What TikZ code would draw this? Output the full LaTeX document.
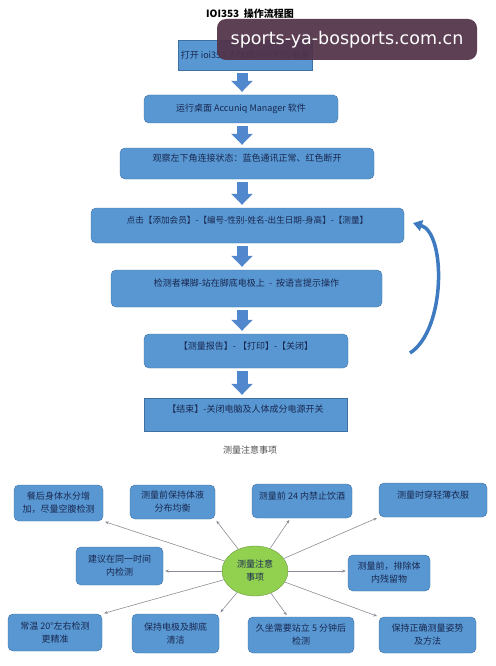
\documentclass[tikz,border=0pt]{standalone}
\usepackage{fontspec}
\setmainfont{Noto Sans CJK SC}
\newfontfamily\markfont{DejaVu Sans}
\usetikzlibrary{arrows.meta,shapes.geometric}
\definecolor{boxblue}{RGB}{88,151,210}
\definecolor{boxedge}{RGB}{62,112,162}
\definecolor{boxtext}{RGB}{25,40,80}
\definecolor{arrowblue}{RGB}{80,135,205}
\definecolor{loopblue}{RGB}{62,122,192}
\definecolor{hubgreen}{RGB}{146,208,80}
\definecolor{hubedge}{RGB}{104,152,62}
\definecolor{spokegray}{RGB}{140,140,150}
\definecolor{wmbg}{RGB}{82,50,72}
\tikzset{
  sz/.style 2 args={minimum width=#1pt,minimum height=#2pt},
  flowbox/.style={draw=boxedge,fill=boxblue,text=boxtext,inner sep=0pt,rounded corners=5pt,
    font=\fontsize{9}{11}\selectfont},
  raised/.style={text depth=11pt},
  flowarrow/.style={draw=arrowblue,line width=11pt,-{Triangle[width=21pt,length=11pt]},
    shorten <=3pt,shorten >=3pt},
  looparrow/.style={draw=loopblue,line width=3.5pt,-{Triangle[width=11pt,length=9pt]}},
  mbox/.style={draw=boxedge,fill=boxblue,text=boxtext,inner sep=0pt,rounded corners=5pt,
    align=center,font=\fontsize{9}{13}\selectfont},
  hub/.style={ellipse,draw=hubedge,fill=hubgreen,text=boxtext,minimum width=66pt,minimum height=50pt,
    inner sep=0pt,align=center,font=\fontsize{9}{13}\selectfont},
  spoke/.style={draw=spokegray,line width=0.6pt,-{Stealth[length=3.5pt,width=3pt]},shorten >=2pt},
  wmark/.style={fill=wmbg,fill opacity=0.93,text opacity=1,text=white,rounded corners=9pt,
    minimum width=260pt,minimum height=41pt,inner sep=0pt,font=\markfont\fontsize{17.5}{20}\selectfont}
}
\begin{document}
\begin{tikzpicture}[x=1pt,y=-1pt]
  \useasboundingbox (0,0) rectangle (495,666);
  \node[font=\bfseries\fontsize{10}{12}\selectfont] (title) at (250,14) {IOI353\ \ 操作流程图};
  % flow chart
  \node[flowbox,sharp corners,sz={134}{30}] (b1) at (245,55) {打开 ioi353 人体成分分析仪电源};
  \node[flowbox,sz={194}{28}] (b2) at (241,109) {运行桌面 Accuniq Manager 软件};
  \node[flowbox,raised,sz={254}{31}] (b3) at (247,163.5) {观察左下角连接状态：蓝色通讯正常、红色断开};
  \node[flowbox,raised,sz={313}{35},font=\fontsize{8.6}{10}\selectfont] (b4) at (247.5,225.5)
    {点击【添加会员】-【编号-性别-姓名-出生日期-身高】-【测量】};
  \node[flowbox,raised,sz={271}{37}] (b5) at (246.5,288.5) {检测者裸脚-站在脚底电极上\ \ -\ \ 按语言提示操作};
  \node[flowbox,raised,sz={204}{34}] (b6) at (246,351) {【测量报告】- 【打印】-【关闭】};
  \node[flowbox,raised,sharp corners,sz={203}{33}] (b7) at (245.5,414.5) {【结束】-关闭电脑及人体成分电源开关};
  \coordinate (ax) at (242,0);
  \foreach \a/\b in {b1/b2,b2/b3,b3/b4,b4/b5,b5/b6,b6/b7}
    \draw[flowarrow] (\a.south -| ax) -- (\b.north -| ax);
  % back to measuring
  \coordinate (loopstart) at (410,353);
  \coordinate (looptip) at (413,223);
  \draw[looparrow] (loopstart) .. controls (446,330) and (446,233) .. (looptip);
  % notes
  \node[text=black!70,font=\fontsize{9}{11}\selectfont] (notes) at (250,450) {测量注意事项};
  \node[hub] (el) at (255,571) {测量注意\\事项};
  \node[mbox,sz={89}{36}] (tl1) at (58.5,503) {餐后身体水分增\\加，尽量空腹检测};
  \node[mbox,sz={85}{34}] (tl2) at (172.5,502) {测量前保持体液\\分布均衡};
  \node[mbox,raised,sz={100}{34}] (t3) at (302,501) {测量前 24 内禁止饮酒};
  \node[mbox,raised,sz={108}{34}] (t4) at (433,500) {测量时穿轻薄衣服};
  \node[mbox,sz={87}{38}] (ml) at (119.5,566) {建议在同一时间\\内检测};
  \node[mbox,sz={82}{36}] (mr) at (389,573) {测量前，排除体\\内残留物};
  \node[mbox,sz={94}{37}] (bl1) at (55,632.5) {常温 20°左右检测\\更精准};
  \node[mbox,sz={87}{39}] (bl2) at (175.5,633.5) {保持电极及脚底\\清洁};
  \node[mbox,sz={106}{36}] (br1) at (301,635) {久坐需要站立 5 分钟后\\检测};
  \node[mbox,sz={97}{36}] (br2) at (427.5,635) {保持正确测量姿势\\及方法};
  \foreach \t in {tl1.south east,tl2.south east,t3,t4.south west,bl1.north east,bl2.north east,br1,br2.north west}
    \draw[spoke] (el) -- (\t);
  \draw[spoke] (el) -- (ml.east |- el);
  \draw[spoke] (el) -- (mr.west |- el);
  % watermark
  \node[wmark] (wm) at (347,39.5) {sports-ya-bosports.com.cn};
\end{tikzpicture}
\end{document}
